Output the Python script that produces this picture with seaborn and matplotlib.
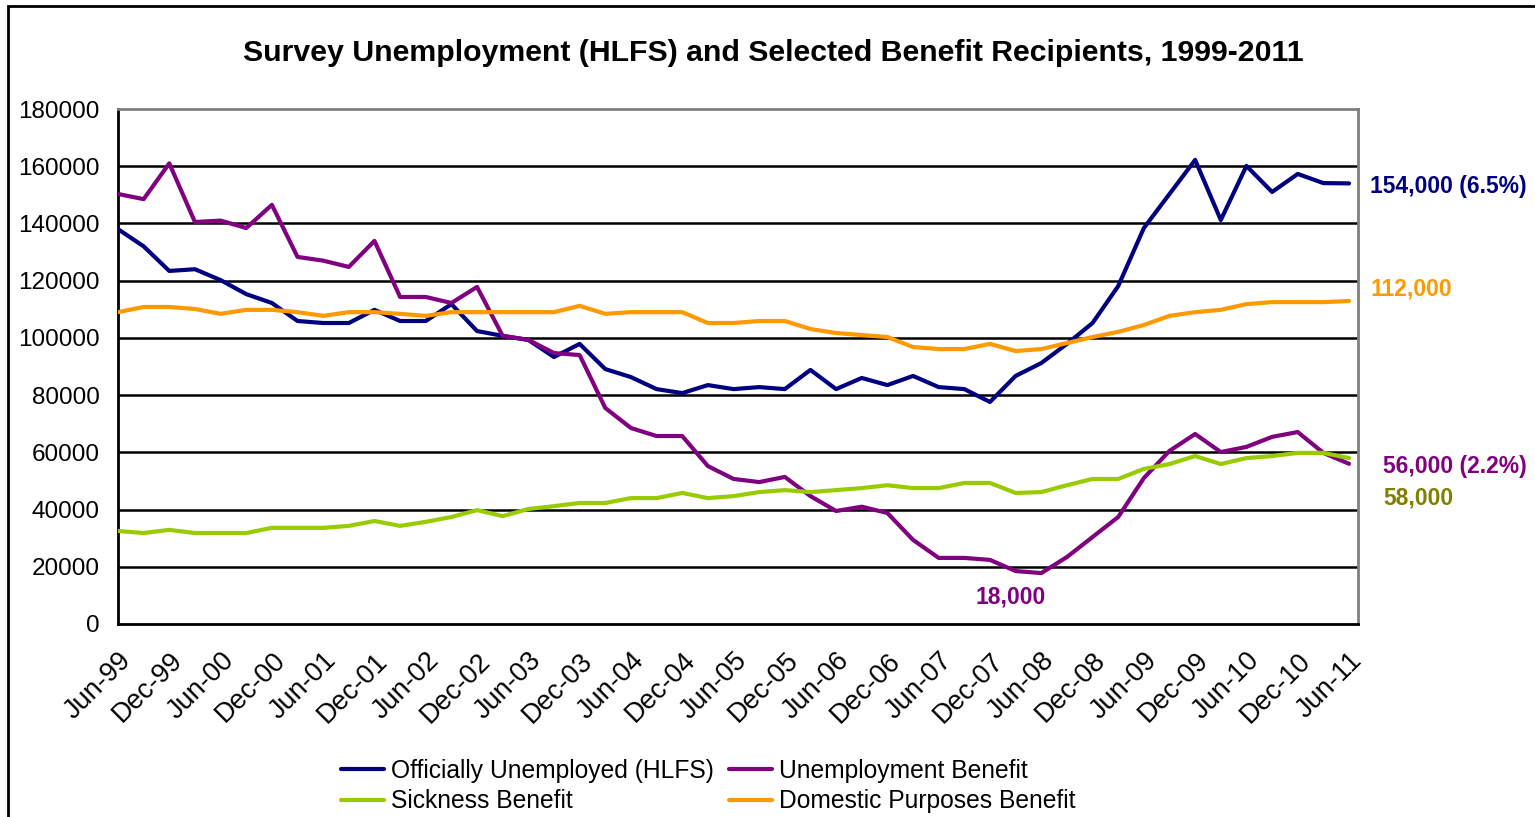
import numpy as np
import pandas as pd
import matplotlib
matplotlib.use("Agg")
import matplotlib.pyplot as plt
from matplotlib.lines import Line2D
from matplotlib.patches import Rectangle
import seaborn as sns

# ---------------- data ----------------
quarters = [
    "Jun-99", "Sep-99", "Dec-99", "Mar-00", "Jun-00", "Sep-00", "Dec-00", "Mar-01",
    "Jun-01", "Sep-01", "Dec-01", "Mar-02", "Jun-02", "Sep-02", "Dec-02", "Mar-03",
    "Jun-03", "Sep-03", "Dec-03", "Mar-04", "Jun-04", "Sep-04", "Dec-04", "Mar-05",
    "Jun-05", "Sep-05", "Dec-05", "Mar-06", "Jun-06", "Sep-06", "Dec-06", "Mar-07",
    "Jun-07", "Sep-07", "Dec-07", "Mar-08", "Jun-08", "Sep-08", "Dec-08", "Mar-09",
    "Jun-09", "Sep-09", "Dec-09", "Mar-10", "Jun-10", "Sep-10", "Dec-10", "Mar-11",
    "Jun-11",
]

officially_unemployed = [
    138000, 132000, 123400, 124000, 120200, 115300, 112200, 105900,
    105200, 105200, 109800, 105900, 105900, 111800, 102400, 100700,
    99300, 93300, 97900, 89100, 86300, 82100, 80700, 83500,
    82100, 82800, 82100, 88800, 82100, 86000, 83500, 86700,
    82800, 82100, 77600, 86700, 91200, 97900, 105200, 118100,
    138400, 150300, 162200, 141200, 160100, 151000, 157300, 154100,
    154000,
]

unemployment_benefit = [
    150300, 148500, 161000, 140500, 141000, 138400, 146500, 128300,
    127000, 124800, 133900, 114300, 114300, 112200, 117800, 100700,
    99300, 94700, 94000, 75500, 68500, 65700, 65700, 55200,
    50700, 49600, 51400, 44700, 39500, 41000, 38800, 29400,
    23100, 23100, 22400, 18500, 17800, 23400, 30400, 37400,
    51000, 60500, 66400, 60100, 61900, 65400, 67100, 59800,
    56000,
]

sickness_benefit = [
    32500, 31800, 32900, 31800, 31800, 31800, 33600, 33600,
    33600, 34300, 36000, 34300, 35700, 37400, 39800, 37700,
    40200, 41200, 42300, 42300, 44000, 44000, 45800, 44000,
    44700, 46100, 46800, 46100, 46800, 47500, 48500, 47500,
    47500, 49300, 49300, 45800, 46100, 48500, 50700, 50700,
    54200, 55900, 58700, 55900, 58000, 58700, 59800, 59800,
    58000,
]

domestic_purposes_benefit = [
    109000, 110800, 110800, 110100, 108400, 109800, 109800, 109000,
    107700, 109000, 109000, 108400, 107700, 109000, 109000, 109000,
    109000, 109000, 111200, 108400, 109000, 109000, 109000, 105200,
    105200, 105900, 105900, 103100, 101700, 101000, 100300, 96800,
    96100, 96100, 97900, 95400, 96100, 98200, 100300, 102100,
    104500, 107700, 109000, 109800, 111800, 112500, 112500, 112500,
    112900,
]

series_names = [
    "Officially Unemployed (HLFS)",
    "Unemployment Benefit",
    "Sickness Benefit",
    "Domestic Purposes Benefit",
]
series_colors = ["#000080", "#800080", "#99CC00", "#FF9900"]

tick_labels = quarters[::2]
y_ticks = [0, 20000, 40000, 60000, 80000, 100000, 120000, 140000, 160000, 180000]

# ---------------- build long table ----------------
idx = np.arange(len(quarters))
frames = []
for name, vals in zip(series_names,
                      [officially_unemployed, unemployment_benefit,
                       sickness_benefit, domestic_purposes_benefit]):
    frames.append(pd.DataFrame({"pos": idx, "quarter": quarters,
                                "value": vals, "series": name}))
df = pd.concat(frames, ignore_index=True)

# ---------------- plot ----------------
sns.set_theme(style="white")
plt.rcParams["font.family"] = ["Liberation Sans", "DejaVu Sans"]
plt.rcParams["text.color"] = "black"
plt.rcParams["xtick.color"] = "black"
plt.rcParams["ytick.color"] = "black"

W, H = 1535, 817
fig = plt.figure(figsize=(W / 100, H / 100), dpi=100)
fig.patch.set_facecolor("white")

# outer chart border
fig.add_artist(Rectangle((8 / W, -0.05), 1.2, (1 - 6 / H) + 0.05,
                         transform=fig.transFigure, fill=False,
                         edgecolor="black", linewidth=2.0, zorder=0))

ax = fig.add_axes([118 / W, 1 - 624 / H, 1240 / W, 515 / H])

sns.lineplot(data=df, x="pos", y="value", hue="series",
             hue_order=series_names, palette=series_colors,
             linewidth=3.0, legend=False, ax=ax, zorder=3)

ax.set_xlim(0, 48.35)
ax.set_ylim(0, 180000)
ax.set_yticks(y_ticks)
ax.set_yticklabels([str(v) for v in y_ticks], fontsize=17.5)
ax.set_xticks(idx[::2])
ax.set_xticklabels(tick_labels, rotation=45, ha="right",
                   rotation_mode="anchor", fontsize=19.5)
ax.set_xlabel("")
ax.set_ylabel("")

# gridlines
ax.grid(False)
for v in y_ticks[1:-1]:
    ax.axhline(v, color="black", linewidth=1.8, zorder=1)

for side in ["left", "bottom"]:
    ax.spines[side].set_color("black")
    ax.spines[side].set_linewidth(2.0)
for side in ["top", "right"]:
    ax.spines[side].set_color("#808080")
    ax.spines[side].set_linewidth(2.0)

ax.tick_params(axis="both", which="both", direction="out", length=8,
               width=1.8, color="black", labelcolor="black")
ax.tick_params(axis="y", pad=5)
ax.tick_params(axis="x", pad=9)

# title
fig.text(0.504, 1 - 53 / H,
         "Survey Unemployment (HLFS) and Selected Benefit Recipients, 1999-2011",
         ha="center", va="center", fontsize=21.8, fontweight="bold",
         color="black")

# end-of-series labels
fig.text(1370 / W, 1 - 187 / H, "154,000 (6.5%)", color="#000080",
         fontsize=16.5, fontweight="bold", ha="left", va="center")
fig.text(1370 / W, 1 - 289 / H, "112,000", color="#FF9900",
         fontsize=16.5, fontweight="bold", ha="left", va="center")
fig.text(1383 / W, 1 - 466 / H, "56,000 (2.2%)", color="#800080",
         fontsize=16.5, fontweight="bold", ha="left", va="center")
fig.text(1383 / W, 1 - 498 / H, "58,000", color="#808000",
         fontsize=16.5, fontweight="bold", ha="left", va="center")
fig.text(1011 / W, 1 - 597 / H, "18,000", color="#800080",
         fontsize=16.5, fontweight="bold", ha="center", va="center")

# legend
handles = [Line2D([0], [0], color=c, linewidth=3.0) for c in series_colors]
order = [0, 2, 1, 3]
leg = fig.legend([handles[i] for i in order], [series_names[i] for i in order],
                 ncol=2, loc="upper left",
                 bbox_to_anchor=(341 / W, 1 - 759 / H),
                 frameon=False, fontsize=17.7, handlelength=1.75,
                 handletextpad=0.3, columnspacing=0.6, labelspacing=0.25,
                 borderpad=0.0, borderaxespad=0.0)
for t in leg.get_texts():
    t.set_color("black")

fig.savefig("out.png", dpi=100, facecolor="white")
